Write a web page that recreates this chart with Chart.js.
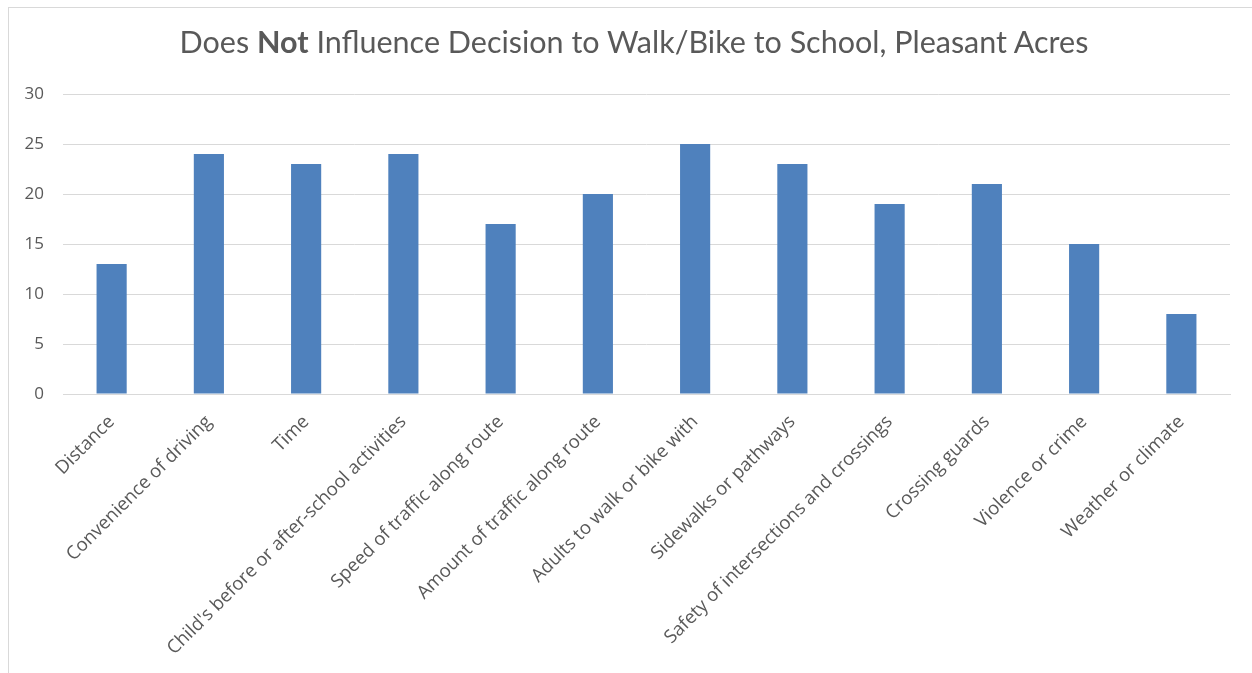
<!DOCTYPE html>
<html>
<head>
<meta charset="utf-8">
<script src="https://cdn.jsdelivr.net/npm/chart.js@4/dist/chart.umd.min.js"></script>
<style>
  html, body { margin: 0; padding: 0; background: #fff; overflow: hidden; }
  #wrap { position: relative; width: 1252px; height: 673px; }
  #frame { position: absolute; left: 8px; top: 7px; width: 1300px; height: 700px; border: 1px solid #d9d9d9; box-sizing: border-box; }
  #title { position: absolute; left: 0; width: 1268px; top: 23px; text-align: center; font-family: Lato, "Open Sans", sans-serif; font-size: 30.5px; color: #595959; white-space: nowrap; }
  #title b { font-weight: 700; }
  canvas { position: absolute; left: 0; top: 0; }
</style>
</head>
<body>
<div id="wrap">
  <div id="frame"></div>
  <canvas id="c" width="1252" height="673"></canvas>
  <div id="title">Does <b>Not</b> Influence Decision to Walk/Bike to School, Pleasant Acres</div>
</div>
<script>
const categories = [
  "Distance",
  "Convenience of driving",
  "Time",
  "Child's before or after-school activities",
  "Speed of traffic along route",
  "Amount of traffic along route",
  "Adults to walk or bike with",
  "Sidewalks or pathways",
  "Safety of intersections and crossings",
  "Crossing guards",
  "Violence or crime",
  "Weather or climate"
];
const values = [13, 24, 23, 24, 17, 20, 25, 23, 19, 21, 15, 8];
const yTicks = [0, 5, 10, 15, 20, 25, 30];

function draw() {
  new Chart(document.getElementById('c'), {
    type: 'bar',
    data: {
      labels: categories,
      datasets: [{
        label: 'Count',
        data: values,
        backgroundColor: '#4f81bd',
        borderWidth: 0,
        barPercentage: 0.62,
        categoryPercentage: 0.5
      }]
    },
    options: {
      responsive: false,
      animation: false,
      layout: { padding: { top: 94, right: 22, left: 0, bottom: 0 } },
      plugins: { legend: { display: false }, title: { display: false }, tooltip: { enabled: false } },
      scales: {
        x: {
          grid: { display: false, drawTicks: false },
          border: { color: '#d9d9d9', width: 1 },
          ticks: {
            color: '#595959',
            font: { family: '"Open Sans"', size: 18.5 },
            minRotation: 45, maxRotation: 45,
            autoSkip: false,
            padding: 17
          },
          afterFit: (s) => { s.height = 279; }
        },
        y: {
          min: 0, max: 30,
          afterBuildTicks: (s) => { s.ticks = yTicks.map(v => ({ value: v })); },
          grid: { color: '#d9d9d9', drawTicks: false, lineWidth: 1 },
          border: { display: false },
          ticks: {
            color: '#595959',
            font: { family: '"Open Sans"', size: 17 },
            padding: 19
          },
          afterFit: (s) => { s.width = 63; }
        }
      }
    }
  });
}
Promise.all([
  document.fonts.load('16px "Open Sans"'),
  document.fonts.load('30px Lato'),
  document.fonts.load('bold 30px Lato')
]).then(draw, draw);
</script>
</body>
</html>
